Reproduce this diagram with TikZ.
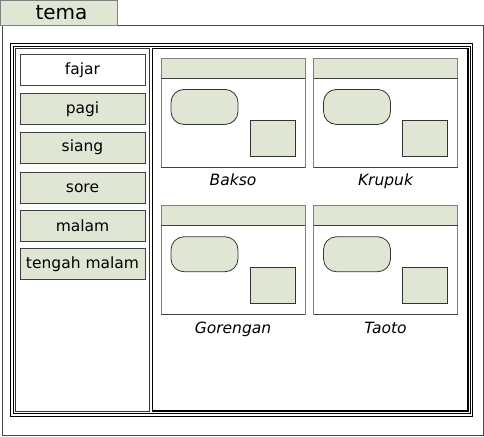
\documentclass[tikz,border=0pt]{standalone}
\usepackage{fontspec}
\setmainfont{DejaVu Sans}
\usetikzlibrary{positioning}
\definecolor{sage}{HTML}{E0E6D4}

\begin{document}
\begin{tikzpicture}[x=1pt,y=-1pt,
  every node/.style={inner sep=0pt,outer sep=0pt},
  btn/.style={draw=black!75,line width=0.8pt,minimum width=125pt,minimum height=31pt,font=\fontsize{15.5}{18}\selectfont},
  card/.style={draw=black!50,line width=0.9pt,minimum width=144pt,minimum height=108.5pt},
  cardhead/.style={draw=black!50,fill=sage,line width=0.9pt,minimum width=144pt,minimum height=19.5pt},
  blob/.style={draw=black!80,fill=sage,line width=0.8pt,rounded corners=13pt,minimum width=67pt,minimum height=35pt},
  tile/.style={draw=black!80,fill=sage,line width=0.8pt,minimum width=45pt,minimum height=36pt},
  caption/.style={font=\fontsize{15.5}{18}\selectfont\itshape}]
\useasboundingbox (0,0) rectangle (484,436);
\draw[black!70,line width=0.9pt] (2,25) rectangle (483,435);
\node[draw=black!50,fill=sage,line width=0.9pt,anchor=north west,minimum width=117pt,minimum height=25pt,font=\fontsize{20}{24}\selectfont] (tema) at (0.5,0.5) {\hspace{5pt}tema};
\draw[line width=0.9pt] (10.5,43) rectangle (472.5,416);
\draw[line width=0.8pt] (13.5,46) rectangle (470,413);
\draw[black!80,line width=0.8pt] (15,48.5) rectangle (149.5,411.5);
\draw[line width=1.4pt] (152.5,48.5) rectangle (468,411);
\foreach \id/\txt/\y/\c in {fajar/fajar/70/white,pagi/pagi/109.2/sage,siang/siang/147.5/sage,
  sore/sore/187.8/sage,malam/malam/225.9/sage,tengah/tengah malam/263.8/sage}
  \node[btn,fill=\c] (\id) at (82.5,\y) {\txt};
\foreach \id/\txt/\x/\y in {bakso/Bakso/233/112.7,krupuk/Krupuk/385.5/112.7,
  gorengan/Gorengan/233/260,taoto/Taoto/385.5/260}{
  \node[card] (\id) at (\x,\y) {};
  \node[cardhead,anchor=north] (\id-head) at (\id.north) {};
  \draw[black!75,line width=0.9pt] (\id-head.south west) -- (\id-head.south east);
  \draw[black!75,line width=0.9pt] (\id.south west) -- (\id.south east);
  \node[blob,anchor=north west] (\id-blob) at ([shift={(10,31)}]\id.north west) {};
  \node[tile,anchor=north west] (\id-tile) at ([shift={(89,61.5)}]\id.north west) {};
  \node[caption,anchor=base] (\id-label) at ([yshift=-18.8pt]\id.south) {\txt};
}
\end{tikzpicture}
\end{document}
